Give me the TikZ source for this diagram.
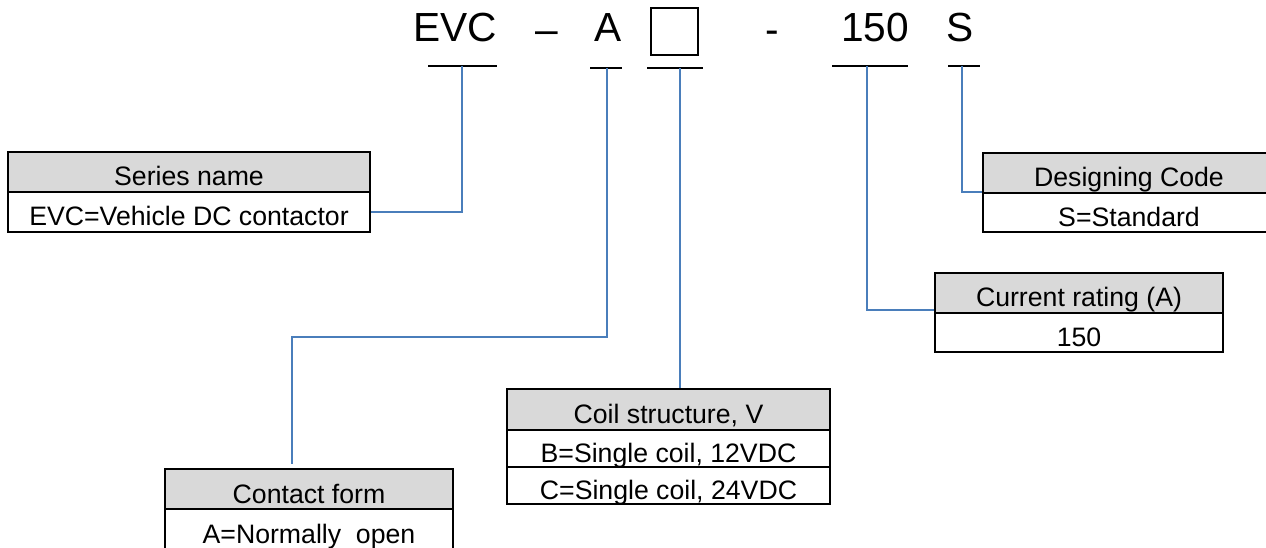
\documentclass[tikz,border=0pt]{standalone}
\usepackage{fontspec}
\setmainfont{Liberation Sans}
\definecolor{lnblue}{RGB}{74,126,187}
\definecolor{hdgray}{RGB}{217,217,217}
\begin{document}
\begin{tikzpicture}[x=0.75pt,y=-0.75pt,
  cell/.style={draw=black,line width=1.5pt,inner sep=0pt,fill=white,
    text height=21pt,text depth=0pt,
    font=\fontsize{20}{22}\selectfont},
  hdr/.style={cell,fill=hdgray},
  code/.style={inner sep=0pt,font=\fontsize{30.5}{36}\selectfont},
  uline/.style={draw=black,line width=1.1pt},
  conn/.style={draw=lnblue,line width=1.4pt}]
\useasboundingbox (0,0) rectangle (1266,548);

% top code row
\node[code,anchor=base] (evc) at (455,42) {EVC};
\node[code,anchor=base] (dash1) at (547,44) {–};
\node[code,anchor=base] (a) at (608,42) {A};
\node[draw=black,line width=1.2pt,minimum size=35.25pt,inner sep=0pt] (sq) at (674.5,31.5) {};
\node[code,anchor=base] (dash2) at (772.5,44) {-};
\node[code,anchor=base] (num) at (875,42) {150};
\node[code,anchor=base] (s) at (960,42) {S};

% underlines
\draw[uline] (428,66) -- (497,66);
\draw[uline] (590,68) -- (622,68);
\draw[uline,line width=1.9pt] (647,68) -- (703,68);
\draw[uline] (832,66) -- (908,66);
\draw[uline] (948,66) -- (980,66);

\coordinate (u1) at (462,66);
\coordinate (u2) at (607,68);
\coordinate (u3) at (680,68);
\coordinate (u4) at (867,66);
\coordinate (u5) at (962,66);
\coordinate (k2) at (292,337);

% Series name
\node[hdr,minimum width=271.5pt,minimum height=30pt] (snh) at (189,172) {Series name};
\node[cell,minimum width=271.5pt,minimum height=30pt] (snb) at (189,212) {EVC=Vehicle DC contactor};

% Designing code
\node[hdr,minimum width=219pt,minimum height=30pt] (dch) at (1129,173) {Designing Code};
\node[cell,minimum width=219pt,minimum height=29.25pt] (dcb) at (1129,212.5) {S=Standard};

% Current rating
\node[hdr,minimum width=216pt,minimum height=30pt] (crh) at (1079,293) {Current rating (A)};
\node[cell,minimum width=216pt,minimum height=29.25pt] (crb) at (1079,332.5) {150};

% Coil structure
\node[hdr,minimum width=242.25pt,minimum height=30.75pt] (coh) at (668.5,409.5) {Coil structure, V};
\node[cell,minimum width=242.25pt,minimum height=27.75pt] (cob1) at (668.5,448.5) {B=Single coil, 12VDC};
\node[cell,minimum width=242.25pt,minimum height=27.75pt] (cob2) at (668.5,485.5) {C=Single coil, 24VDC};

% Contact form
\node[hdr,minimum width=216pt,minimum height=30pt] (cfh) at (309,489) {Contact form};
\node[cell,minimum width=216pt,minimum height=30pt] (cfb) at (309,529) {A=Normally\ \ open};

% connectors
\draw[conn] (u1) |- (snb.east);
\draw[conn] (u2) |- (k2) -- ([yshift=3pt]k2 |- cfh.north);
\draw[conn] (u3) -- (u3 |- coh.north);
\draw[conn] (u4) |- ([yshift=3pt]crh.south west);
\draw[conn] (u5) |- ([yshift=1.5pt]dch.south west);
\end{tikzpicture}
\end{document}
